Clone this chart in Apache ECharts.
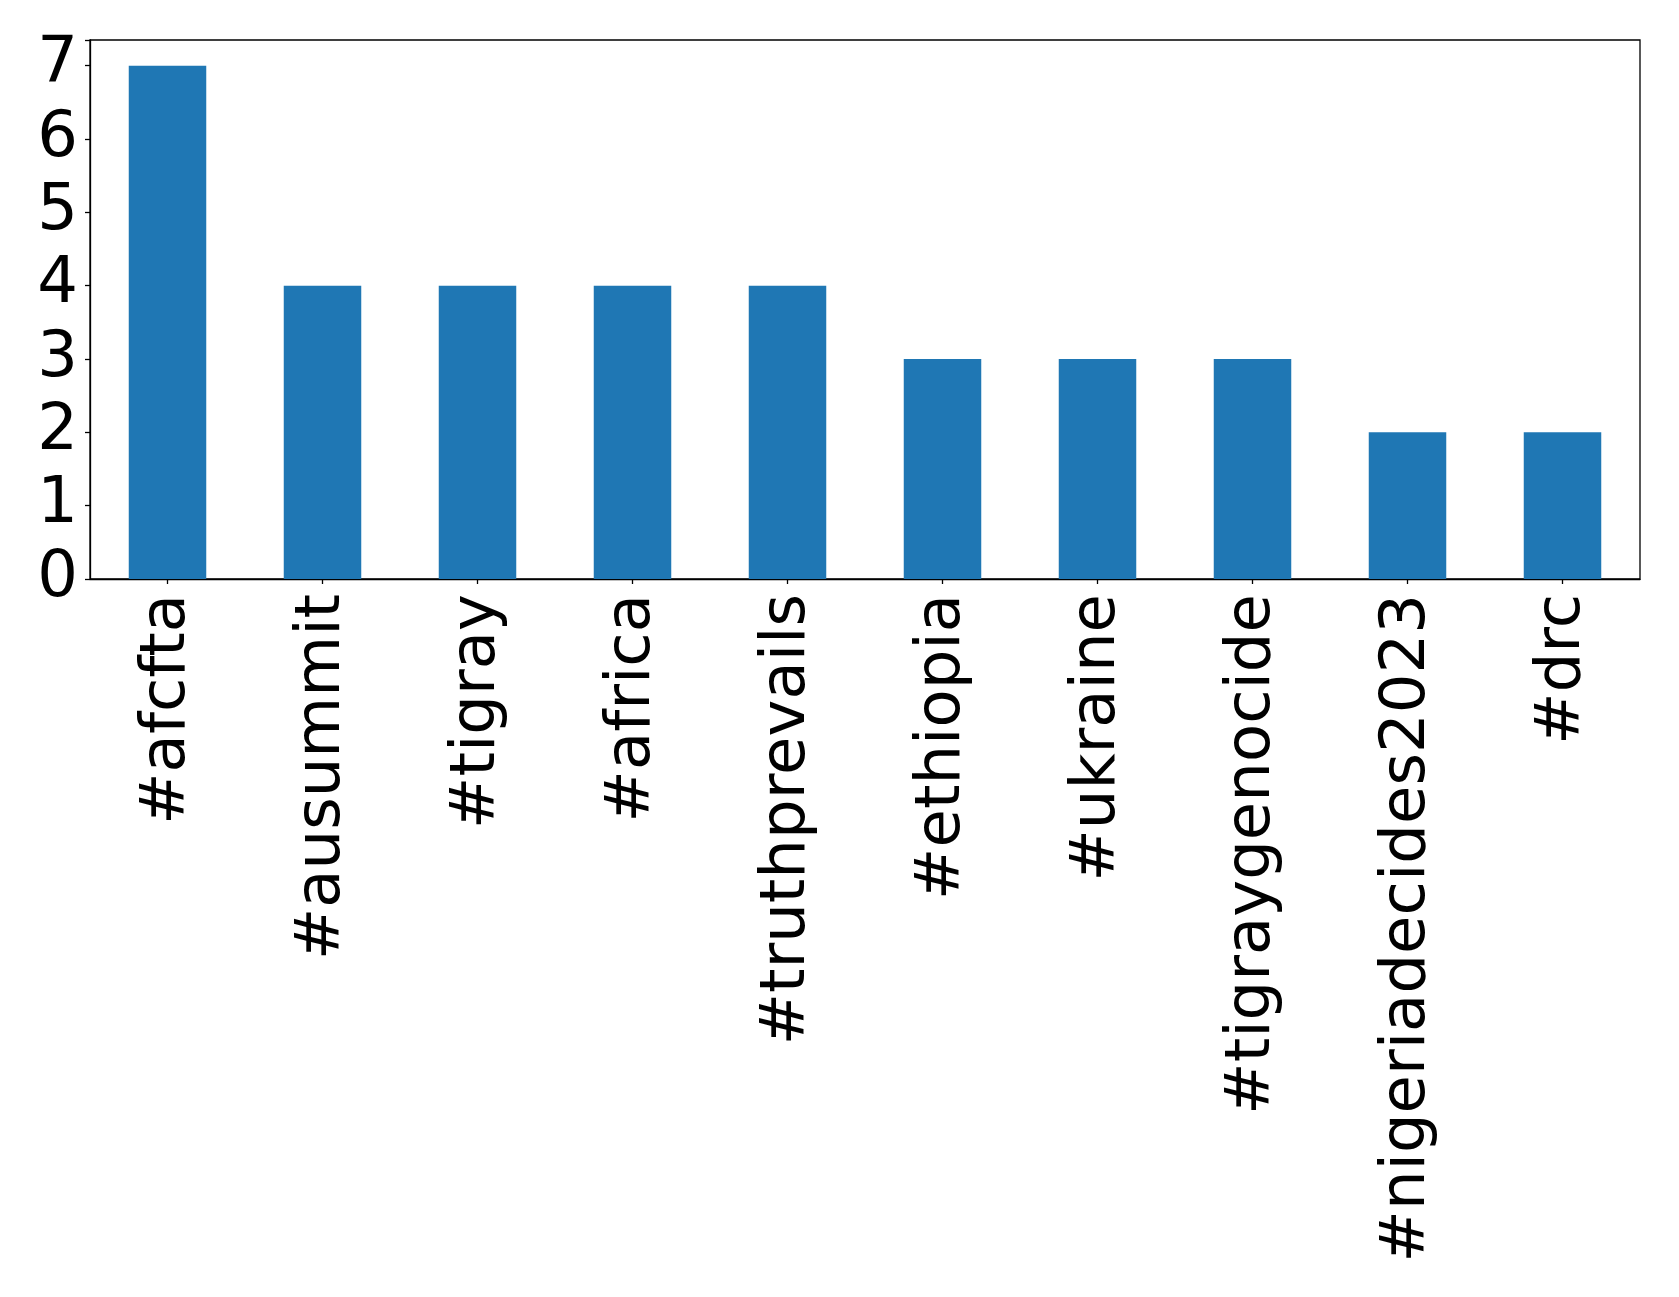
<!DOCTYPE html>
<html>
<head>
<meta charset="utf-8">
<script src="https://cdn.jsdelivr.net/npm/echarts@6/dist/echarts.min.js"></script>
<style>
html,body{margin:0;padding:0;background:#fff;}
#chart{width:1679px;height:1297px;}
</style>
</head>
<body>
<div id="chart"></div>
<script>
var categories = ['#afcfta','#ausummit','#tigray','#africa','#truthprevails','#ethiopia','#ukraine','#tigraygenocide','#nigeriadecides2023','#drc'];
var counts = [7,4,4,4,4,3,3,3,2,2];
var yTicks = [0,1,2,3,4,5,6,7];

var chart = echarts.init(document.getElementById('chart'), null, {renderer:'canvas'});
chart.setOption({
  animation:false,
  backgroundColor:'#fff',
  grid:{left:90,right:39,top:40,bottom:718,show:true,borderColor:'#000',borderWidth:1.3,backgroundColor:'transparent'},
  xAxis:{
    type:'category',
    data:categories,
    boundaryGap:true,
    axisLine:{show:true,lineStyle:{color:'#000',width:1.3}},
    axisTick:{show:true,alignWithLabel:true,length:5,lineStyle:{color:'#000',width:1.3}},
    axisLabel:{rotate:90,interval:0,margin:15,color:'#000',fontSize:62.5,fontFamily:'DejaVu Sans',padding:[6,0,0,0]},
    splitLine:{show:false}
  },
  yAxis:{
    type:'value',
    min:0,max:7.35,interval:1,
    axisLine:{show:true,lineStyle:{color:'#000',width:1.3}},
    axisTick:{show:true,length:5,lineStyle:{color:'#000',width:1.3}},
    axisLabel:{margin:12,color:'#000',fontSize:64,fontFamily:'DejaVu Sans',
      formatter:function(v){return yTicks.indexOf(v)>=0?String(v):'';}},
    splitLine:{show:false}
  },
  series:[{
    type:'bar',
    data:counts,
    barWidth:'50%',
    itemStyle:{color:'#1f77b4'}
  }]
});
</script>
</body>
</html>
